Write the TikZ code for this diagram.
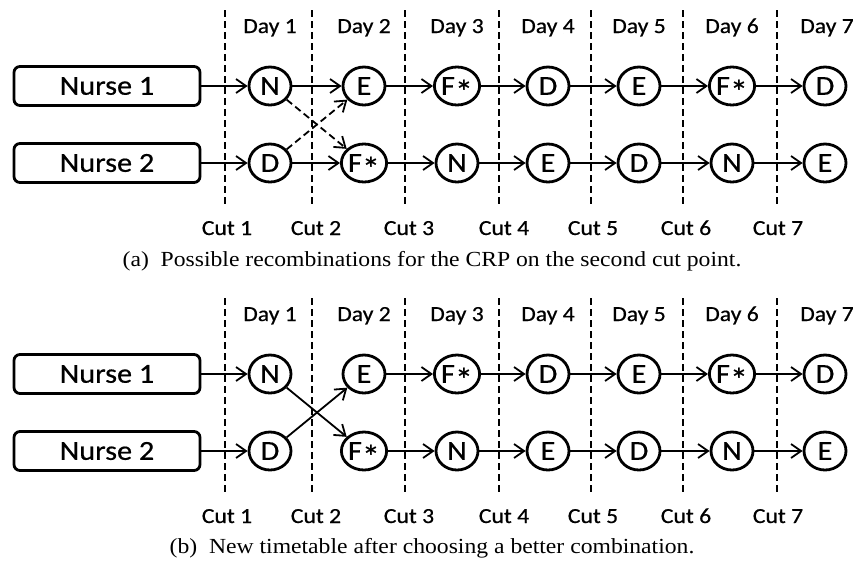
\documentclass[tikz,border=0pt]{standalone}
\usepackage{graphicx}
\usepackage{fontspec}
\setmainfont{Liberation Serif}
\newfontfamily\calfont[FakeBold=0.5]{Carlito}
\usetikzlibrary{arrows.meta,shapes.geometric}
\newcommand{\hs}[1]{\scalebox{1.1}[1]{#1}}
\newcommand{\myast}{\raisebox{-0.3em}[0pt][0pt]{\scalebox{1.2}{*}}}
\begin{document}
\begin{tikzpicture}[x=1pt,y=-1pt,
  nurse/.style={draw,rounded corners=6pt,line width=2.8pt,minimum width=186pt,minimum height=39pt,inner sep=0pt,font=\calfont\fontsize{27.5}{30}\selectfont},
  shiftnode/.style={draw,ellipse,line width=2.8pt,minimum width=42pt,minimum height=38pt,inner sep=0pt,font=\calfont\fontsize{27.5}{30}\selectfont},
  lab/.style={font=\calfont\fontsize{21.5}{24}\selectfont,inner sep=0pt,anchor=base},
  captext/.style={font=\fontsize{21.5}{24}\selectfont,inner sep=0pt,anchor=base},
  cutline/.style={line width=2pt,dash pattern=on 7pt off 4pt},
  arr/.style={line width=1.8pt,-{Straight Barb[length=10pt,width=14pt,line width=1.8pt]}},
  darr/.style={arr,dash pattern=on 7pt off 4pt}]
\useasboundingbox (0,0) rectangle (853,563);
\foreach \p/\dy in {a/0,b/288}{
  \begin{scope}[yshift=-\dy pt]
    \foreach \cx in {225,312,405,499,591,683,777}
      \draw[cutline] (\cx,10) -- (\cx,205);
    \foreach \x [count=\i] in {270,364,457,548,639,732,827}
      \node[lab] (\p-day\i) at (\x,33) {\hs{Day \i}};
    \foreach \x [count=\i] in {227,316,409,504,593,686,778}
      \node[lab] (\p-cut\i) at (\x,235) {\hs{Cut \i}};
    \node[nurse] (\p-n1) at (107,86) {\hs{Nurse 1}};
    \node[nurse] (\p-n2) at (107,163) {\hs{Nurse 2}};
    \foreach \x/\s [count=\i] in {270/N,364/E,457/F\myast,548/D,639/E,732/F\myast,825/D}
      \node[shiftnode] (\p-r1-\i) at (\x,86) {\hs{\s}};
    \foreach \x/\s [count=\i] in {270/D,364/F\myast,457/N,548/E,639/D,732/N,825/E}
      \node[shiftnode] (\p-r2-\i) at (\x,163) {\hs{\s}};
    \draw[arr] (\p-n1) -- (\p-r1-1);
    \draw[arr] (\p-n2) -- (\p-r2-1);
    \foreach \i/\j in {2/3,3/4,4/5,5/6,6/7}{
      \draw[arr] (\p-r1-\i) -- (\p-r1-\j);
      \draw[arr] (\p-r2-\i) -- (\p-r2-\j);
    }
  \end{scope}
}
% panel (a): original links and possible recombinations
\draw[arr] (a-r1-1) -- (a-r1-2);
\draw[arr] (a-r2-1) -- (a-r2-2);
\draw[darr] (a-r1-1) -- (a-r2-2);
\draw[darr] (a-r2-1) -- (a-r1-2);
% panel (b): chosen combination
\draw[arr] (b-r1-1) -- (b-r2-2);
\draw[arr] (b-r2-1) -- (b-r1-2);
\node[captext] (capa) at (432,266) {\hs{(a)\hspace{0.5em}Possible recombinations for the CRP on the second cut point.}};
\node[captext] (capb) at (432,553) {\hs{(b)\hspace{0.5em}New timetable after choosing a better combination.}};
\end{tikzpicture}
\end{document}
